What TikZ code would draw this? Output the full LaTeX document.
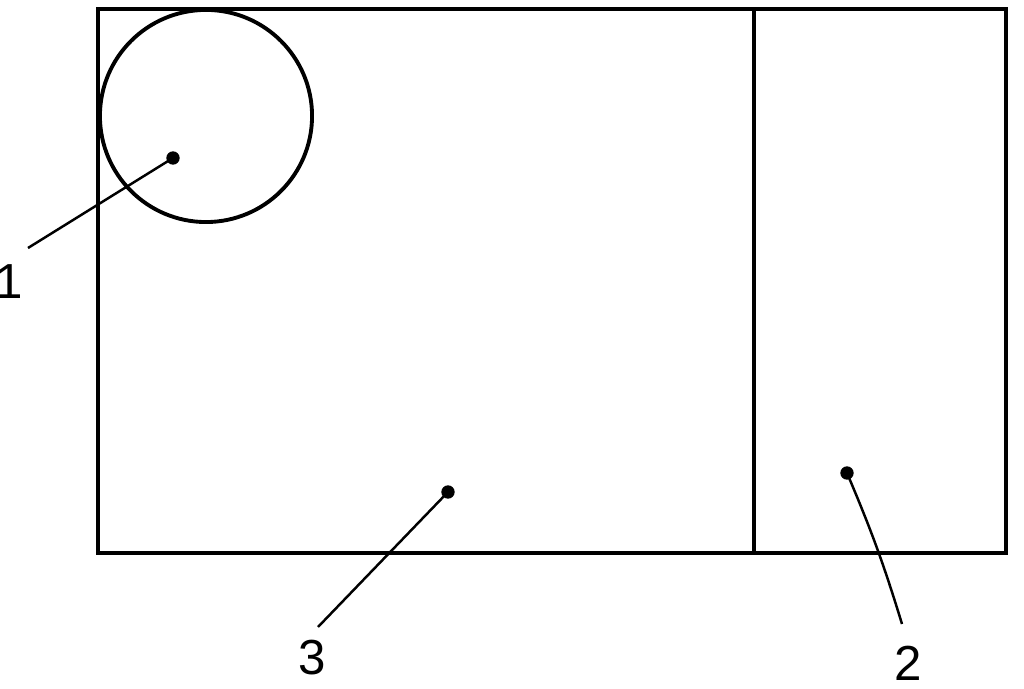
\documentclass[tikz,border=0pt]{standalone}
\usepackage{fontspec}
\setmainfont{Liberation Sans}
\begin{document}
\begin{tikzpicture}[x=0.01cm,y=-0.01cm,line width=1.1pt,
		pin/.style={circle,fill=black,inner sep=0pt,minimum size=3.8pt},
		lbl/.style={inner sep=0pt,font=\fontsize{14}{16}\selectfont}]
			\useasboundingbox (0,0) rectangle (1024,689);
			% housing and partition
			\draw (98,9) rectangle (1006,553);
			\draw (754,9) -- (754,553);
			\node[draw,circle,inner sep=0pt,minimum size=2.12cm] (tank) at (206,116) {};
			% reference points
			\node[pin] (d1) at (173,158) {};
			\node[pin] (d3) at (448,492) {};
			\node[pin] (d2) at (847,473) {};
			\coordinate (e1) at (28,248);
			\coordinate (e3) at (318,627);
			\coordinate (e2) at (902,624);
			\node[lbl] (l1) at (9,282) {1};
			\node[lbl] (l3) at (312,658) {3};
			\node[lbl] (l2) at (908,663) {2};
			\draw[line width=0.7pt] (d1.center) -- (e1);
			\draw[line width=0.7pt] (d3.center) -- (e3);
			\draw[line width=0.7pt] (d2.center) to [bend left=3] (e2);
		\end{tikzpicture}
\end{document}
